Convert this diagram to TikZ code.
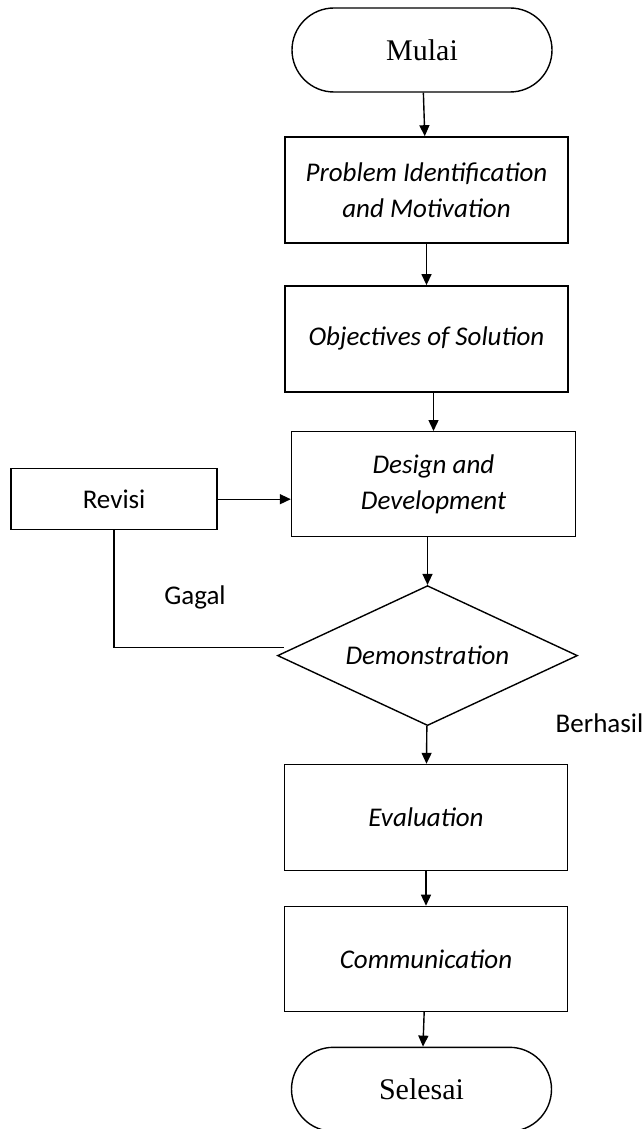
\documentclass[tikz,border=0pt]{standalone}
\usepackage{fontspec}
\setmainfont{Carlito}
\newfontfamily\termfont{Liberation Serif}
\usetikzlibrary{positioning,shapes.geometric,arrows.meta}

\begin{document}
\begin{tikzpicture}[x=1pt,y=1pt,-{Triangle[length=11pt,width=10pt]},line width=1.4pt,
            term node/.style={draw,rectangle,rounded corners=42pt,minimum width=260pt,minimum height=84pt,font=\termfont\fontsize{30}{36}\selectfont},
            box node/.style={draw,rectangle,minimum width=283pt,minimum height=106pt,align=center,font=\fontsize{27}{36}\selectfont\itshape},
            test node/.style={draw,diamond,aspect=2.14,minimum width=300pt,minimum height=140pt,inner sep=0pt,font=\fontsize{27}{30}\selectfont\itshape},
            side node/.style={draw,rectangle,minimum width=206pt,minimum height=61pt,font=\fontsize{27}{30}\selectfont},
            label node/.style={font=\fontsize{27}{30}\selectfont}]

        \useasboundingbox (0,0) rectangle (643,-1129);

        % Define vertices
        \node[term node] (mulai) at (422,-50) {Mulai};
        \node[box node] (problem) [below=43.5pt of mulai,xshift=4.5pt] {Problem Identification\\and Motivation};
        \node[box node] (objectives) [below=41.5pt of problem] {Objectives of Solution};
        \node[box node,minimum width=284pt,minimum height=105pt] (design) [below=38.5pt of objectives,xshift=7pt] {Design and\\Development};
        \node[test node] (demo) [below=47.5pt of design,xshift=-6pt] {Demonstration};
        \node[box node] (evaluation) [below=37.5pt of demo,xshift=-1.5pt] {Evaluation};
        \node[box node,minimum height=105pt] (communication) [below=34.5pt of evaluation] {Communication};
        \node[term node] (selesai) [below=34.5pt of communication,xshift=-4.5pt] {Selesai};
        \node[side node] (revisi) [left=73pt of design,yshift=-15pt] {Revisi};

        % Labels
        \node[label node] (gagal) at (195,-597) {Gagal};
        \node[label node,anchor=west,inner sep=0pt] (berhasil) at (555,-723) {Berhasil};

        % Draw edges
        \path
            (mulai) edge (problem)
            (problem) edge (objectives)
            (objectives.south -| design.north) edge (design.north)
            (design.south -| demo.north) edge (demo.north)
            (demo) edge (evaluation)
            (evaluation) edge (communication)
            (communication) edge (selesai)
            (revisi.east) edge (revisi.east -| design.west);
        \draw[-] (revisi.south) |- ([shift={(7pt,8pt)}]demo.west);

        \end{tikzpicture}
\end{document}
